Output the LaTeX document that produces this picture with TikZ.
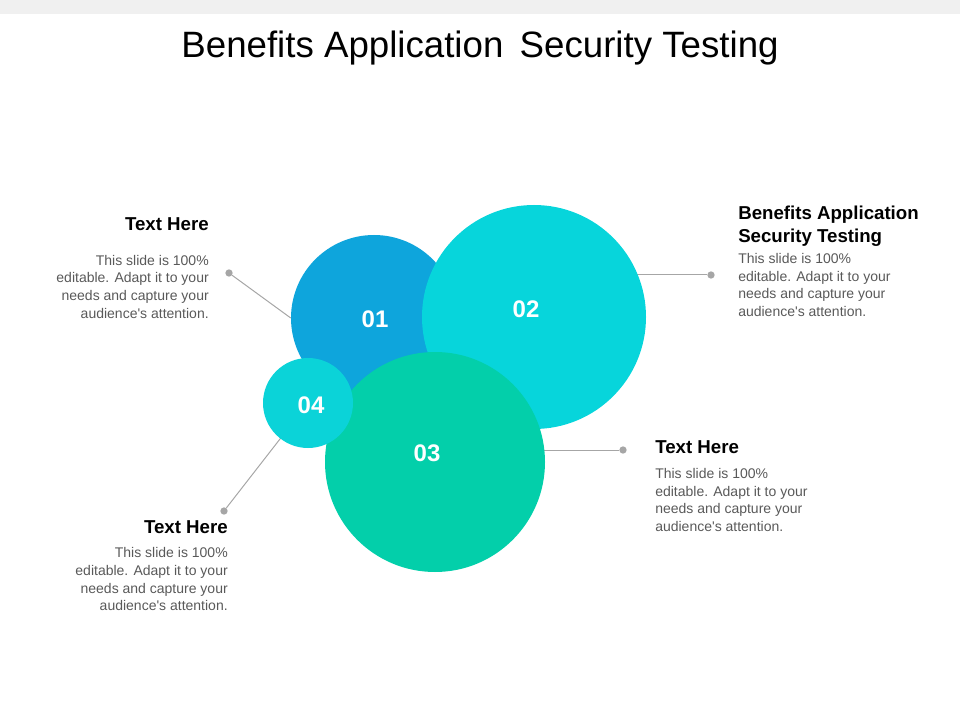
\documentclass[tikz,border=0pt]{standalone}
\usepackage{fontspec}
\setmainfont{Liberation Sans}
\usepackage{tikz}
\usetikzlibrary{positioning}
\definecolor{azul}{HTML}{0EA5DC}
\definecolor{cian}{HTML}{07D5DB}
\definecolor{verde}{HTML}{03CFAA}
\definecolor{cianb}{HTML}{0BD3D8}
\definecolor{gris}{HTML}{A6A6A6}
\definecolor{gristexto}{HTML}{595959}
\definecolor{barra}{HTML}{F0F0F0}
\tikzset{
    burbuja/.style={circle,draw=none,inner sep=0pt},
    numero/.style={text=white,node font=\fontsize{18}{18}\selectfont\bfseries},
    titulo/.style={inner sep=0pt,node font=\fontsize{14}{17.25}\selectfont\bfseries},
    texto/.style={inner sep=0pt,text=gristexto,node font=\fontsize{10.5}{13.3}\selectfont},
    linea/.style={draw=gris,line width=0.75pt},
    punto/.style={circle,fill=gris,inner sep=0pt,minimum size=5.5pt},
}
\newcommand{\relleno}{This slide is 100\%\\editable. Adapt it to your\\needs and capture your\\audience\textquotesingle s attention.}
\begin{document}
\begin{tikzpicture}[x=0.75pt,y=-0.75pt]
    \useasboundingbox (0,0) rectangle (960,720);
    \fill [barra] (0,0) rectangle (960,14);
    \node [anchor=base,inner sep=0pt,node font=\fontsize{27.5}{33}\selectfont] (cab) at (480,58) {Benefits Application\, Security Testing};

    \coordinate (o1) at (374,318);
    \coordinate (o2) at (534,317);
    \coordinate (o3) at (435,462);
    \coordinate (o4) at (308,403);

    \node [punto] (p1) at (229,273) {};
    \node [punto] (p2) at (711,275) {};
    \node [punto] (p3) at (623,450) {};
    \node [punto] (p4) at (224,511) {};

    \node [burbuja,fill=azul,minimum size=124.5pt] (c1) at (o1) {};
    \path [linea] (p1) -- (c1.west);
    \path [linea] (p2) -- (p2 -| o2);
    \path [linea] (p3) -- (p3 -| o3);
    \path [linea] (p4) -- (o4);
    \node [burbuja,fill=cian,minimum size=168pt] (c2) at (o2) {};
    \node [burbuja,fill=verde,minimum size=165pt] (c3) at (o3) {};
    \node [burbuja,fill=cianb,minimum size=67.5pt] (c4) at (o4) {};

    \node [numero] (n1) at (375,319) {01};
    \node [numero] (n2) at (526,309) {02};
    \node [numero] (n3) at (427,453) {03};
    \node [numero] (n4) at (311,405) {04};

    \node [titulo,anchor=base east] (t1) at (209,231) {Text Here};
    \node [texto,align=right,below=17.5pt of t1.south east,anchor=north east] (x1) {\relleno};

    \node [titulo,align=left,anchor=north west] (t2) at (738,206) {Benefits Application\\Security Testing};
    \node [texto,align=left,below=4.4pt of t2.south west,anchor=north west] (x2) {\relleno};

    \node [titulo,anchor=base west] (t3) at (655,453) {Text Here};
    \node [texto,align=left,below=11pt of t3.south west,anchor=north west] (x3) {\relleno};

    \node [titulo,anchor=base east] (t4) at (228,533) {Text Here};
    \node [texto,align=right,below=10.3pt of t4.south east,anchor=north east] (x4) {\relleno};
\end{tikzpicture}
\end{document}
